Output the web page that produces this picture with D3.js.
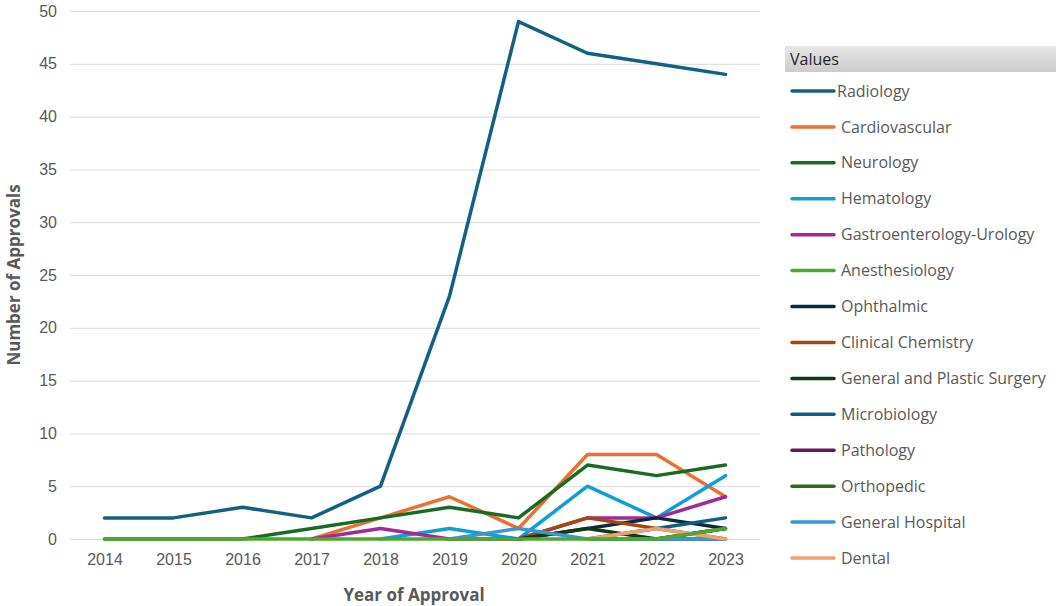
<!DOCTYPE html>
<html>
<head>
<meta charset="utf-8">
<script src="https://cdn.jsdelivr.net/npm/d3@7"></script>
<style>
  html, body { margin: 0; padding: 0; background: #fff; }
  svg { display: block; font-family: "Open Sans", "Noto Sans", sans-serif; }
</style>
</head>
<body>
<div id="chart"></div>
<script>
// Data
var years = [2014, 2015, 2016, 2017, 2018, 2019, 2020, 2021, 2022, 2023];
var yTicks = [0, 5, 10, 15, 20, 25, 30, 35, 40, 45, 50];

var seriesNames = [
  'Radiology', 'Cardiovascular', 'Neurology', 'Hematology', 'Gastroenterology-Urology',
  'Anesthesiology', 'Ophthalmic', 'Clinical Chemistry', 'General and Plastic Surgery',
  'Microbiology', 'Pathology', 'Orthopedic', 'General Hospital', 'Dental'
];

var seriesColors = [
  '#156082', '#e97132', '#196b24', '#0f9ed5', '#a02b93',
  '#4ea72e', '#0e2841', '#a5450f', '#0f3a12',
  '#0b5f80', '#601a58', '#2f6b1e', '#3a98ce', '#f1a170'
];

// values per year, null = no point
var radiology      = [2, 2, 3, 2, 5, 23, 49, 46, 45, 44];
var cardiovascular = [null, null, null, 0, 2, 4, 1, 8, 8, 4];
var neurology      = [0, 0, 0, 1, 2, 3, 2, 7, 6, 7];
var hematology     = [null, null, null, null, 0, 1, 0, 5, 2, 6];
var gastroUrology  = [null, null, null, 0, 1, 0, 0, 2, 2, 4];
var anesthesiology = [0, 0, 0, 0, 0, 0, 0, 0, 0, 1];
var ophthalmic     = [null, null, null, null, null, null, 0, 1, 2, 1];
var clinicalChem   = [null, null, null, null, null, null, 0, 2, 1, 0];
var genPlastic     = [null, null, null, null, null, null, 0, 1, 0, 1];
var microbiology   = [null, null, null, null, null, null, null, 0, 1, 2];
var pathology      = [null, null, null, null, null, null, null, null, 0, 0];
var orthopedic     = [null, null, null, null, null, null, null, 0, 0, 1];
var genHospital    = [null, null, null, null, null, 0, 1, 0, 0, 0];
var dental         = [null, null, null, null, null, null, null, 0, 1, 0];

var seriesValues = [
  radiology, cardiovascular, neurology, hematology, gastroUrology,
  anesthesiology, ophthalmic, clinicalChem, genPlastic,
  microbiology, pathology, orthopedic, genHospital, dental
];

// paint order: the light green zero line sits on top in the reference
var paintOrder = [0, 1, 2, 3, 4, 6, 7, 8, 9, 10, 11, 12, 13, 5];

var W = 1056, H = 606;
var plot = { left: 70, right: 760, top: 11, bottom: 539 };

var svg = d3.select('#chart').append('svg')
  .attr('width', W).attr('height', H);

svg.append('rect').attr('width', W).attr('height', H).attr('fill', '#fff');

var x = d3.scalePoint()
  .domain(years)
  .range([plot.left, plot.right])
  .padding(0.5);

var y = d3.scaleLinear()
  .domain([0, 50])
  .range([plot.bottom, plot.top]);

// gridlines
svg.append('g')
  .attr('transform', 'translate(' + plot.left + ',0)')
  .call(d3.axisLeft(y).tickValues(yTicks).tickSize(-(plot.right - plot.left)).tickFormat(''))
  .call(function(g) {
    g.select('.domain').remove();
    g.selectAll('line').attr('stroke', '#d9d9d9').attr('stroke-width', 1);
  });

// y tick labels
svg.append('g')
  .attr('transform', 'translate(' + plot.left + ',0)')
  .call(d3.axisLeft(y).tickValues(yTicks).tickSize(0).tickPadding(13))
  .call(function(g) {
    g.select('.domain').remove();
    g.selectAll('text').attr('fill', '#595959').attr('font-size', 16);
  });

// x tick labels
svg.append('g')
  .attr('transform', 'translate(0,' + plot.bottom + ')')
  .call(d3.axisBottom(x).tickSize(0).tickPadding(15))
  .call(function(g) {
    g.select('.domain').remove();
    g.selectAll('text').attr('fill', '#595959').attr('font-size', 16);
  });

// axis titles
svg.append('text')
  .attr('x', (plot.left + plot.right) / 2 - 1).attr('y', 601)
  .attr('text-anchor', 'middle')
  .attr('fill', '#595959').attr('font-size', 17).attr('font-weight', 700)
  .text('Year of Approval');

svg.append('text')
  .attr('transform', 'translate(20,' + 275 + ') rotate(-90)')
  .attr('text-anchor', 'middle')
  .attr('fill', '#595959').attr('font-size', 17).attr('font-weight', 700)
  .text('Number of Approvals');

// lines
var line = d3.line()
  .defined(function(d) { return d.v !== null; })
  .x(function(d) { return x(d.year); })
  .y(function(d) { return y(d.v); });

paintOrder.forEach(function(i) {
  var pts = years.map(function(yr, k) { return { year: yr, v: seriesValues[i][k] }; });
  svg.append('path')
    .datum(pts)
    .attr('fill', 'none')
    .attr('stroke', seriesColors[i])
    .attr('stroke-width', 3.5)
    .attr('stroke-linejoin', 'round')
    .attr('stroke-linecap', 'round')
    .attr('d', line);
});

// legend
var grad = svg.append('defs').append('linearGradient')
  .attr('id', 'hdr').attr('x1', 0).attr('y1', 0).attr('x2', 0).attr('y2', 1);
grad.append('stop').attr('offset', '0%').attr('stop-color', '#e6e6e6');
grad.append('stop').attr('offset', '100%').attr('stop-color', '#cccccc');

svg.append('rect')
  .attr('x', 785).attr('y', 46).attr('width', 271).attr('height', 26)
  .attr('fill', 'url(#hdr)');
svg.append('text')
  .attr('x', 790).attr('y', 65)
  .attr('fill', '#262626').attr('font-size', 16)
  .text('Values');

var legendY = d3.scalePoint()
  .domain(seriesNames)
  .range([91, 558]);

var legend = svg.append('g').selectAll('g')
  .data(seriesNames)
  .join('g')
  .attr('transform', function(d) { return 'translate(0,' + legendY(d) + ')'; });

legend.append('line')
  .attr('x1', 792).attr('x2', 834)
  .attr('stroke', function(d, i) { return seriesColors[i]; })
  .attr('stroke-width', 3.5)
  .attr('stroke-linecap', 'round');

legend.append('text')
  .attr('x', function(d, i) { return i === 0 ? 837 : 841; })
  .attr('y', 0)
  .attr('dy', '0.35em')
  .attr('fill', '#595959').attr('font-size', 16)
  .text(function(d) { return d; });
</script>
</body>
</html>
